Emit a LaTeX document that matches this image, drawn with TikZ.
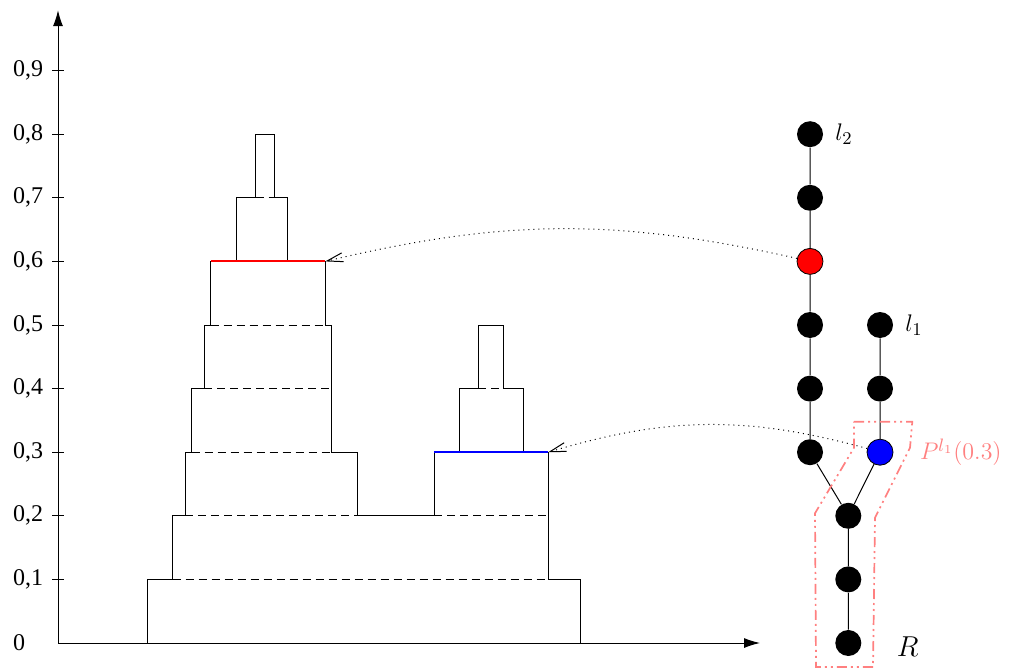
\documentclass[tikz,border=0pt]{standalone}
\usepackage[no-math]{fontspec}
\setmainfont{Liberation Serif}
\usetikzlibrary{arrows.meta,positioning}

\begin{document}
\begin{tikzpicture}[
        x=0.5pt, y=31.8pt,
        outline/.style={line width=0.5pt},
        inner/.style={line width=0.5pt, dash pattern=on 4pt off 2.5pt},
        vertex/.style={circle, fill=black, minimum size=13pt, inner sep=0pt},
        hit/.style={vertex, draw=black, line width=0.4pt},
        link/.style={line width=0.5pt},
        lookup/.style={line width=0.5pt, dotted, -{Straight Barb[length=8pt,width=4.5pt]}},
        pathzone/.style={draw=red!50, line width=0.85pt, dash pattern=on 5pt off 2pt on 1pt off 2pt on 1pt off 2pt},
        ticklabel/.style={font=\fontsize{12}{14}\selectfont, anchor=west},
        leaflabel/.style={font=\fontsize{13}{15}\selectfont}
    ]
        \useasboundingbox (0,-0.4245) rectangle (1011,10.11);

        % axes
        \coordinate (origin) at (58,0);
        \coordinate (ytop) at (58,9.95);
        \coordinate (xend) at (760,0);
        \draw[line width=0.5pt, -{Latex[length=8pt,width=5pt]}] (origin) -- (ytop);
        \draw[line width=0.5pt, -{Latex[length=8pt,width=5pt]}] (origin) -- (xend);
        \node[ticklabel] (zero) at (6,0) {0};
        \foreach \k in {1,...,9} {
            \draw[line width=0.5pt] (52,\k) -- (64,\k);
            \node[ticklabel] at (6,\k) {0,\k};
        }

        % level sets
        \draw[outline] (147.3,0) |- (172.7,1) |- (185.3,2) |- (191.7,3) |- (204.3,4)
            |- (210.7,5) |- (236.3,6) |- (255.7,7) |- (274.3,8) |- (287.3,7)
            |- (325.3,6) |- (331.7,5) |- (357.7,3) |- (434,2) |- (459.3,3)
            |- (478.3,4) |- (503.7,5) |- (523.3,4) |- (548.3,3) |- (580.3,1)
            -- (580.3,0);
        \draw[inner] (172.7,1) -- (548.3,1);
        \draw[inner] (185.3,2) -- (357.7,2);
        \draw[inner] (434,2) -- (548.3,2);
        \draw[inner] (191.7,3) -- (331.7,3);
        \draw[inner] (204.3,4) -- (331.7,4);
        \draw[inner] (478.3,4) -- (503.7,4);
        \draw[inner] (210.7,5) -- (325.3,5);
        \draw[inner] (255.7,7) -- (274.3,7);

        \coordinate (redL) at (210.7,6);
        \coordinate (redR) at (325.3,6);
        \coordinate (blueL) at (434,3);
        \coordinate (blueR) at (548.3,3);
        \draw[red, line width=1pt] (redL) -- (redR);
        \draw[blue, line width=1pt] (blueL) -- (blueR);

        % tree
        \node[vertex] (a8) at (810,8) {};
        \node[vertex] (a7) at (810,7) {};
        \node[hit, fill=red] (a6) at (810,6) {};
        \node[vertex] (a5) at (810,5) {};
        \node[vertex] (a4) at (810,4) {};
        \node[vertex] (a3) at (810,3) {};
        \node[vertex] (b5) at (880,5) {};
        \node[vertex] (b4) at (880,4) {};
        \node[hit, fill=blue] (b3) at (880,3) {};
        \node[vertex] (m2) at (848.3,2) {};
        \node[vertex] (m1) at (848.3,1) {};
        \node[vertex] (m0) at (848.3,0) {};

        \draw[link] (a8) -- (a7) -- (a6) -- (a5) -- (a4) -- (a3) -- (m2) -- (m1) -- (m0);
        \draw[link] (b5) -- (b4) -- (b3) -- (m2);

        \node[leaflabel, right=2.5pt of a8] (l2) {$l_2$};
        \node[leaflabel, right=2.5pt of b5] (l1) {$l_1$};
        \node[font=\fontsize{15}{18}\selectfont, right=14pt of m0, yshift=-2pt] (root) {$R$};

        % path from root to l1 at 0.3
        \draw[pathzone] (854,3.48) -- (912.3,3.48) -- (910,3.07) -- (875,1.97) -- (873,-0.377)
            -- (816,-0.377) -- (815,2.04) -- (854,3.07) -- cycle;
        \node[leaflabel, text=red!50, anchor=west] (plabel) at (913,3) {$P^{l_1}(0.3)$};

        % links to the level sets
        \draw[lookup] (a6) to[bend right=13] (redR);
        \draw[lookup] (b3) to[bend right=16] (blueR);
    \end{tikzpicture}
\end{document}
